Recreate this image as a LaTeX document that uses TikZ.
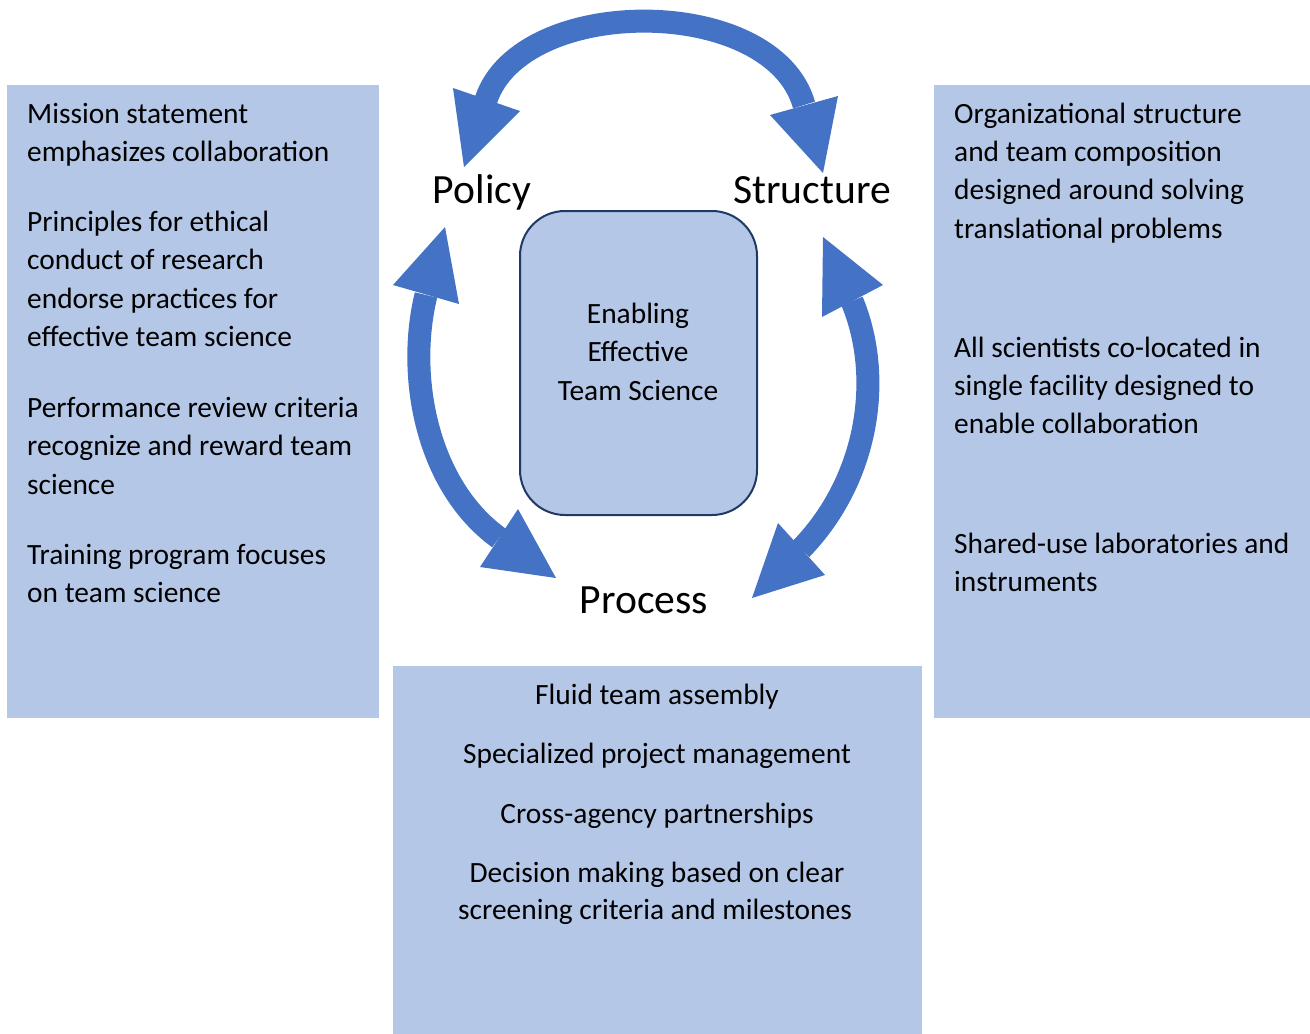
\documentclass[tikz,border=0pt]{standalone}
\usepackage{fontspec}
\setmainfont{Carlito}
\definecolor{boxfill}{HTML}{B4C7E7}
\definecolor{arrowblue}{HTML}{4472C4}
\definecolor{navy}{HTML}{203864}
\begin{document}
\begin{tikzpicture}[x=1pt,y=-1pt,
 panel/.style={fill=boxfill, draw=none, inner sep=0pt},
 txt/.style={font=\fontsize{29.4}{34}\selectfont, inner sep=0pt, anchor=base west},
 ctxt/.style={font=\fontsize{29.4}{34}\selectfont, inner sep=0pt, anchor=base},
 lab/.style={font=\fontsize{41.6}{48}\selectfont, inner sep=0pt, anchor=base},
 body/.style={draw=arrowblue, line width=23pt},
 head/.style={fill=arrowblue}]
\useasboundingbox (0,0) rectangle (1310,1034);
% panels
\node[panel, minimum width=372pt, minimum height=633pt] (policybox) at (193,401.5) {};
\node[panel, minimum width=376pt, minimum height=633pt] (structbox) at (1122,401.5) {};
\node[panel, minimum width=529pt, minimum height=368pt] (procbox) at (657.5,850) {};
\node[draw=navy, line width=2pt, fill=boxfill, rounded corners=45pt, minimum width=237pt, minimum height=304pt] (center) at (638.5,363) {};
% arrows
\draw[body] (486,100) .. controls (521,-6) and (773,-6) .. (804,105);
\fill[head] (453,88) -- (520,111) -- (464,167) -- cycle;
\fill[head] (770,115) -- (838,96) -- (823,173) -- cycle;
\draw[body] (426,295) .. controls (406,377) and (427,486) .. (499,538);
\fill[head] (393,285) -- (459,304) -- (445,227) -- cycle;
\fill[head] (480,567) -- (518,509) -- (556,578) -- cycle;
\draw[body] (852,301) .. controls (884,378) and (868,480) .. (801,549);
\fill[head] (822,317) -- (883,285) -- (823,237) -- cycle;
\fill[head] (778,523) -- (825,575) -- (752,598) -- cycle;
% labels
\node[lab] (policy) at (482,203) {Policy};
\node[lab] (structure) at (812,203) {Structure};
\node[lab] (process) at (644,613) {Process};
% center text
\node[ctxt] (c1) at (638,323) {Enabling};
\node[ctxt] (c2) at (638,361) {Effective};
\node[ctxt] (c3) at (638,400) {Team Science};
% left text
\node[txt] (l1) at (27,123) {Mission statement};
\node[txt] (l2) at (27,161.5) {emphasizes collaboration};
\node[txt] (l3) at (27,231) {Principles for ethical};
\node[txt] (l4) at (27,269.5) {conduct of research};
\node[txt] (l5) at (27,308) {endorse practices for};
\node[txt] (l6) at (27,346.5) {effective team science};
\node[txt] (l7) at (27,417) {Performance review criteria};
\node[txt] (l8) at (27,455.5) {recognize and reward team};
\node[txt] (l9) at (27,494) {science};
\node[txt] (l10) at (27,564) {Training program focuses};
\node[txt] (l11) at (27,602.5) {on team science};
% right text
\node[txt] (r1) at (954,123) {Organizational structure};
\node[txt] (r2) at (954,161) {and team composition};
\node[txt] (r3) at (954,199) {designed around solving};
\node[txt] (r4) at (954,238) {translational problems};
\node[txt] (r5) at (954,357) {All scientists co-located in};
\node[txt] (r6) at (954,395) {single facility designed to};
\node[txt] (r7) at (954,433) {enable collaboration};
\node[txt] (r8) at (954,553) {Shared-use laboratories and};
\node[txt] (r9) at (954,591) {instruments};
% bottom text
\node[ctxt] (b1) at (657,704) {Fluid team assembly};
\node[ctxt] (b2) at (657,763) {Specialized project management};
\node[ctxt] (b3) at (657,823) {Cross-agency partnerships};
\node[ctxt] (b4) at (657,882) {Decision making based on clear};
\node[ctxt] (b5) at (655,919) {screening criteria and milestones};
\end{tikzpicture}
\end{document}
